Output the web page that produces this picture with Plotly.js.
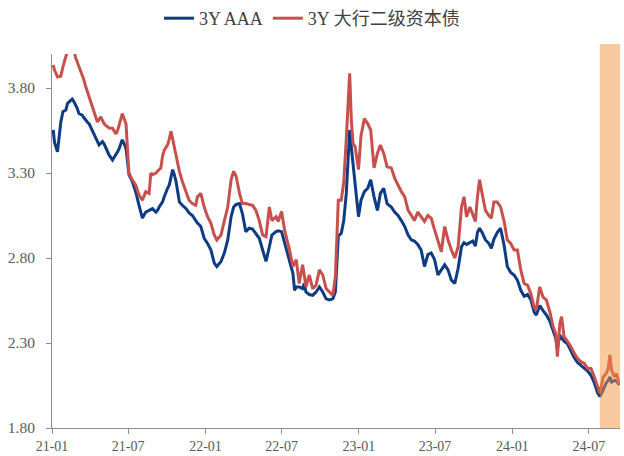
<!DOCTYPE html>
<html>
<head>
<meta charset="utf-8">
<script src="https://cdn.plot.ly/plotly-3.0.1.min.js"></script>
<style>
  html, body { margin: 0; padding: 0; background: #fff; }
  #chart { width: 624px; height: 456px; }
</style>
</head>
<body>
<div id="chart"></div>
<script>
// Dates of the read-off points
const dates = [
 '2021-01-04','2021-01-07','2021-01-14','2021-01-19','2021-01-22','2021-01-27','2021-02-03','2021-02-07','2021-02-18','2021-02-22',
 '2021-02-26','2021-03-02','2021-03-06','2021-03-10','2021-03-14','2021-03-18','2021-03-22','2021-03-26','2021-03-30','2021-04-03',
 '2021-04-07','2021-04-11','2021-04-15','2021-04-19','2021-04-23','2021-04-27','2021-05-01','2021-05-05','2021-05-09','2021-05-13',
 '2021-05-17','2021-05-25','2021-05-29','2021-06-02','2021-06-06','2021-06-10','2021-06-14','2021-06-17','2021-06-22','2021-06-26',
 '2021-06-30','2021-07-03','2021-07-11','2021-07-19','2021-07-27','2021-08-04','2021-08-12','2021-08-20','2021-08-24','2021-08-28',
 '2021-09-05','2021-09-09','2021-09-13','2021-09-17','2021-09-21','2021-09-25','2021-09-29','2021-10-03','2021-10-07','2021-10-11',
 '2021-10-15','2021-10-19','2021-10-23','2021-10-27','2021-10-31','2021-11-07','2021-11-16','2021-11-23','2021-12-01','2021-12-09',
 '2021-12-13','2021-12-21','2021-12-29','2022-01-06','2022-01-14','2022-01-22','2022-01-28','2022-02-07','2022-02-15','2022-02-23',
 '2022-03-03','2022-03-09','2022-03-15','2022-03-23','2022-03-30','2022-04-07','2022-04-15','2022-04-23','2022-05-01','2022-05-09',
 '2022-05-17','2022-05-25','2022-06-02','2022-06-08','2022-06-18','2022-06-23','2022-07-01','2022-07-09','2022-07-20','2022-07-28',
 '2022-08-01','2022-08-05','2022-08-12','2022-08-20','2022-08-24','2022-08-28','2022-09-05','2022-09-13','2022-09-21','2022-09-29',
 '2022-10-07','2022-10-15','2022-10-23','2022-10-31','2022-11-06','2022-11-10','2022-11-13','2022-11-20','2022-11-26','2022-12-02',
 '2022-12-07','2022-12-10','2022-12-14','2022-12-18','2022-12-23','2022-12-31','2023-01-06','2023-01-14','2023-01-22','2023-01-29',
 '2023-02-06','2023-02-14','2023-02-21','2023-03-01','2023-03-09','2023-03-19','2023-03-27','2023-04-04','2023-04-12','2023-04-20',
 '2023-04-28','2023-05-06','2023-05-13','2023-05-21','2023-05-29','2023-06-06','2023-06-14','2023-06-22','2023-06-30','2023-07-08',
 '2023-07-16','2023-07-24','2023-08-01','2023-08-09','2023-08-17','2023-08-25','2023-09-02','2023-09-08','2023-09-14','2023-09-22',
 '2023-09-29','2023-10-05','2023-10-10','2023-10-15','2023-10-21','2023-10-29','2023-11-06','2023-11-12','2023-11-18','2023-11-26',
 '2023-12-04','2023-12-12','2023-12-20','2023-12-28','2024-01-05','2024-01-13','2024-01-21','2024-01-29','2024-02-06','2024-02-14',
 '2024-02-22','2024-02-27','2024-03-06','2024-03-14','2024-03-22','2024-03-30','2024-04-07','2024-04-13','2024-04-17','2024-04-23',
 '2024-04-27','2024-05-03','2024-05-11','2024-05-19','2024-05-27','2024-06-04','2024-06-12','2024-06-20','2024-06-28','2024-07-06',
 '2024-07-14','2024-07-22','2024-07-27','2024-08-04','2024-08-11','2024-08-16','2024-08-20','2024-08-24','2024-08-31','2024-09-05',
 '2024-09-11'
];

// 3Y AAA
const aaa = [
 3.553,3.48,3.425,3.535,3.60,3.66,3.67,3.71,3.735,3.72,
 3.70,3.68,3.65,3.645,3.64,3.625,3.61,3.60,3.59,3.57,
 3.55,3.53,3.515,3.49,3.465,3.475,3.485,3.47,3.45,3.43,
 3.405,3.376,3.39,3.405,3.425,3.445,3.47,3.495,3.47,3.445,
 3.36,3.29,3.25,3.19,3.11,3.035,3.07,3.08,3.085,3.09,
 3.07,3.08,3.10,3.115,3.13,3.16,3.19,3.21,3.23,3.28,
 3.32,3.29,3.25,3.19,3.13,3.11,3.09,3.065,3.05,3.02,
 3.005,2.985,2.916,2.886,2.847,2.77,2.75,2.78,2.83,2.906,
 3.043,3.10,3.115,3.12,3.06,2.955,2.975,2.97,2.94,2.916,
 2.847,2.78,2.866,2.935,2.955,2.96,2.955,2.88,2.79,2.71,
 2.61,2.63,2.63,2.62,2.65,2.60,2.585,2.58,2.60,2.63,
 2.60,2.56,2.553,2.56,2.60,2.78,2.93,2.945,3.02,3.18,
 3.415,3.553,3.45,3.36,3.26,3.043,3.14,3.19,3.21,3.26,
 3.16,3.08,3.18,3.21,3.12,3.10,3.07,3.05,3.02,2.985,
 2.935,2.906,2.90,2.88,2.847,2.75,2.82,2.83,2.79,2.70,
 2.73,2.76,2.73,2.67,2.65,2.74,2.866,2.89,2.88,2.89,
 2.90,2.87,2.95,2.975,2.95,2.906,2.886,2.857,2.91,2.95,
 2.975,2.88,2.75,2.715,2.70,2.67,2.61,2.575,2.585,2.555,
 2.48,2.465,2.52,2.49,2.465,2.43,2.37,2.33,2.27,2.347,
 2.33,2.31,2.295,2.255,2.215,2.185,2.17,2.155,2.135,2.11,
 2.065,2.005,1.985,2.025,2.065,2.08,2.10,2.07,2.08,2.075,
 2.053
];

// 3Y 大行二级资本债
const bankTier2 = [
 3.935,3.906,3.866,3.866,3.87,3.925,3.99,4.02,4.03,4.03,
 3.98,3.955,3.92,3.896,3.87,3.847,3.81,3.78,3.74,3.71,
 3.685,3.66,3.63,3.60,3.615,3.63,3.61,3.59,3.58,3.57,
 3.565,3.563,3.545,3.53,3.55,3.58,3.62,3.65,3.62,3.59,
 3.42,3.30,3.26,3.23,3.17,3.14,3.19,3.18,3.30,3.29,
 3.30,3.31,3.32,3.33,3.40,3.435,3.45,3.465,3.50,3.545,
 3.50,3.45,3.405,3.36,3.31,3.25,3.19,3.14,3.12,3.11,
 3.16,3.18,3.10,3.043,3.004,2.935,2.906,2.935,3.02,3.10,
 3.26,3.31,3.28,3.18,3.12,3.12,3.115,3.11,3.08,3.02,
 2.935,2.925,3.10,3.02,3.043,3.015,3.073,2.955,2.847,2.75,
 2.77,2.79,2.65,2.76,2.70,2.63,2.70,2.62,2.64,2.73,
 2.70,2.62,2.60,2.58,2.69,2.95,3.14,3.14,3.25,3.50,
 3.70,3.886,3.61,3.475,3.455,3.32,3.52,3.62,3.59,3.553,
 3.33,3.415,3.465,3.415,3.337,3.33,3.27,3.23,3.19,3.16,
 3.08,3.05,3.02,3.07,3.04,3.015,3.05,3.034,2.965,2.906,
 2.837,2.985,2.906,2.847,2.80,2.866,3.10,3.16,3.043,3.10,
 3.06,3.015,3.16,3.26,3.18,3.08,3.05,3.034,3.13,3.13,
 3.10,3.02,2.906,2.886,2.847,2.847,2.73,2.65,2.64,2.59,
 2.51,2.494,2.63,2.57,2.553,2.484,2.396,2.357,2.22,2.415,
 2.455,2.337,2.31,2.28,2.24,2.21,2.19,2.18,2.15,2.15,
 2.10,2.04,2.004,2.10,2.12,2.15,2.23,2.14,2.10,2.12,
 2.06
];

const seriesNames = ['3Y AAA', '3Y 大行二级资本债'];
const xTickVals = ['2021-01-01','2021-07-01','2022-01-01','2022-07-01','2023-01-01','2023-07-01','2024-01-01','2024-07-01'];
const xTickText = ['21-01','21-07','22-01','22-07','23-01','23-07','24-01','24-07'];
const yTickVals = [1.8, 2.3, 2.8, 3.3, 3.8];
const yTickText = ['1.80','2.30','2.80','3.30','3.80'];
const xRange = ['2021-01-01', '2024-09-13'];
const yRange = [1.8, 4.0];
const shadeStart = '2024-07-27';
const shadeEnd = '2024-09-13';

const serif = '"Liberation Serif", "Times New Roman", "Noto Sans CJK SC", serif';

const traces = [
  { x: dates, y: aaa, name: seriesNames[0], type: 'scatter', mode: 'lines',
    line: { color: '#0D3B84', width: 3 } },
  { x: dates, y: bankTier2, name: seriesNames[1], type: 'scatter', mode: 'lines',
    line: { color: '#C7504C', width: 3 } }
];

const layout = {
  width: 624, height: 456,
  margin: { l: 52, r: 4, t: 54, b: 28, pad: 0 },
  paper_bgcolor: '#ffffff', plot_bgcolor: '#ffffff',
  showlegend: true,
  legend: {
    orientation: 'h', x: 0.5, xref: 'container', xanchor: 'center',
    y: 1, yref: 'container', yanchor: 'top',
    font: { family: serif, size: 18, color: '#404040' },
    bgcolor: 'rgba(0,0,0,0)', itemwidth: 30, tracegroupgap: 0
  },
  xaxis: {
    type: 'date', range: xRange, tickmode: 'array', tickvals: xTickVals, ticktext: xTickText,
    showgrid: false, zeroline: false, showline: true, linecolor: '#8c8c8c', linewidth: 1,
    ticks: 'outside', ticklen: 5, tickcolor: '#8c8c8c',
    tickfont: { family: serif, size: 14, color: '#595959' }
  },
  yaxis: {
    range: yRange, tickmode: 'array', tickvals: yTickVals, ticktext: yTickText,
    showgrid: false, zeroline: false, showline: true, linecolor: '#8c8c8c', linewidth: 1,
    ticks: 'outside', ticklen: 5, tickcolor: '#8c8c8c', ticklabelstandoff: 8,
    tickfont: { family: serif, size: 15.5, color: '#595959' }
  },
  shapes: [{
    type: 'rect', xref: 'x', yref: 'paper', x0: shadeStart, x1: shadeEnd, y0: 0, y1: 1.027,
    fillcolor: 'rgba(244,148,66,0.5)', line: { width: 0 }, layer: 'above'
  }]
};

Plotly.newPlot('chart', traces, layout, { displayModeBar: false, staticPlot: true });
</script>
</body>
</html>
